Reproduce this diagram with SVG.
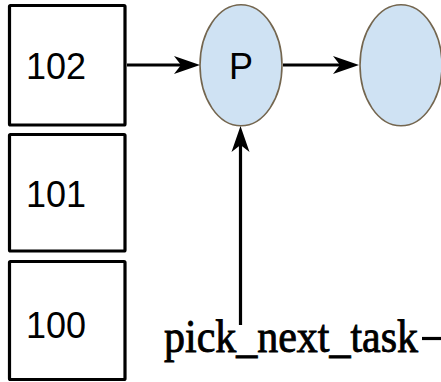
<svg xmlns="http://www.w3.org/2000/svg" width="441" height="382" viewBox="0 0 441 382">
  <style>
    .box { fill: #ffffff; stroke: #000000; stroke-width: 3.2; }
    .num { font-family: "Liberation Sans", Arial, sans-serif; font-size: 36px; fill: #000000; }
    .proc { fill: #cfe2f3; stroke: #74664f; stroke-width: 1.6; }
    .edge { fill: none; stroke: #000000; stroke-width: 3.2; }
    .label { font-family: "Liberation Serif", "Times New Roman", serif; font-size: 46px; fill: #000000; stroke: #000000; stroke-width: 0.9; }
  </style>
  <defs>
    <marker id="arrow" markerUnits="userSpaceOnUse" markerWidth="27" markerHeight="20" refX="16" refY="10" orient="auto">
      <path d="M0,1 L26,10 L0,19 L7,10 Z" fill="#000000"/>
    </marker>
  </defs>

  <!-- priority array slots -->
  <g id="slot-102">
    <rect class="box" x="9.5" y="5.5" width="115.5" height="119.5" rx="1"/>
    <text class="num" x="26" y="79">102</text>
  </g>
  <g id="slot-101">
    <rect class="box" x="9.5" y="134.5" width="115.5" height="116.5" rx="1"/>
    <text class="num" x="26" y="207">101</text>
  </g>
  <g id="slot-100">
    <rect class="box" x="9.5" y="261.5" width="115.5" height="118" rx="1"/>
    <text class="num" x="26" y="338">100</text>
  </g>

  <!-- run queue entries -->
  <g id="task-p">
    <ellipse class="proc" cx="241" cy="65.3" rx="41" ry="60.5"/>
    <text class="num" x="241" y="79" text-anchor="middle">P</text>
  </g>
  <g id="task-next">
    <ellipse class="proc" cx="401" cy="65.3" rx="41" ry="60.5"/>
  </g>

  <!-- scheduler entry point -->
  <g id="pick-next-task">
    <text class="label" x="164" y="351.7" textLength="254" lengthAdjust="spacingAndGlyphs">pick_next_task</text>
  </g>

  <g id="connectors">
    <line class="edge" x1="127" y1="65" x2="190" y2="65" marker-end="url(#arrow)"/>
    <line class="edge" x1="283" y1="65" x2="349" y2="65" marker-end="url(#arrow)"/>
    <line class="edge" x1="240.5" y1="325" x2="240.5" y2="136" marker-end="url(#arrow)"/>
    <line class="edge" x1="422" y1="338.5" x2="441" y2="338.5"/>
  </g>
</svg>
